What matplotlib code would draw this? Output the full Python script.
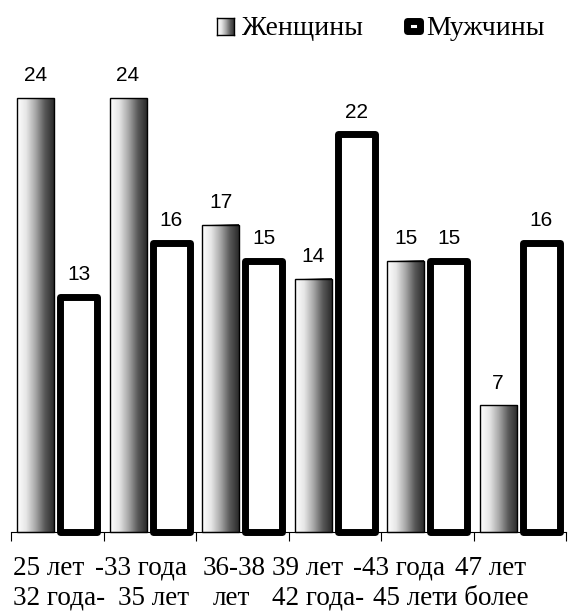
import numpy as np
import matplotlib
matplotlib.use("Agg")
import matplotlib.pyplot as plt
from matplotlib.colors import LinearSegmentedColormap
from matplotlib.patches import Rectangle
from matplotlib.transforms import blended_transform_factory

# Возрастные группы (подписи по строкам, как они выводятся под осью)
line1 = ["25 лет", "-33 года", "36-38", "39 лет", "-43 года", "47 лет"]
line2 = ["32 года-", "35 лет", "лет", "42 года-", "45 лет", "и более"]
women = [24, 24, 17, 14, 15, 7]
men = [13, 16, 15, 22, 15, 16]

# левый край каждого фрагмента подписи (в единицах категорий)
line1_x = [-0.478, 0.408, 1.576, 2.322, 3.197, 4.30]
line2_x = [-0.478, 0.657, 1.684, 2.322, 3.414, 4.165]

W, H = 569, 615
fig = plt.figure(figsize=(W / 100, H / 100), dpi=100)
ax = fig.add_axes([11 / W, 83 / H, 555 / W, 434 / H])

shade = LinearSegmentedColormap.from_list(
    "shade", ["#ffffff", "#e6e6e6", "#a8a8a8", "#5a5a5a", "#2a2a2a"])
grad = np.linspace(0, 1, 256).reshape(1, -1)

x = np.arange(len(women))
width = 0.40
off = 0.235

bars_w = ax.bar(x - off, women, width, facecolor="none", edgecolor="black",
                lw=1, zorder=3, clip_on=False)
for b in bars_w:
    ax.imshow(grad, cmap=shade, aspect="auto", zorder=2, clip_on=False,
              extent=[b.get_x(), b.get_x() + b.get_width(), 0, b.get_height()])

bars_m = ax.bar(x + off, men, width, facecolor="white", edgecolor="black",
                lw=5, joinstyle="round", zorder=3, clip_on=False)

for bars, vals in ((bars_w, women), (bars_m, men)):
    for b, v in zip(bars, vals):
        ax.annotate(str(v), (b.get_x() + b.get_width() / 2, v),
                    xytext=(0, 12), textcoords="offset points",
                    ha="center", va="baseline", fontsize=15,
                    family="Liberation Sans")

ax.set_xlim(-0.5, len(women) - 0.5)
ax.set_ylim(0, 24)
for s in ("top", "left", "right"):
    ax.spines[s].set_visible(False)
ax.spines["bottom"].set_linewidth(0.8)
ax.set_yticks([])
ax.set_xticks(np.arange(-0.5, len(women), 1))
ax.set_xticklabels([])
ax.tick_params(axis="x", length=6.5, width=0.8, direction="out")

tr = blended_transform_factory(ax.transData, fig.transFigure)
for xs, ys, texts in ((line1_x, (H - 575) / H, line1),
                      (line2_x, (H - 605) / H, line2)):
    for xp, t in zip(xs, texts):
        ax.text(xp, ys, t, transform=tr, ha="left", va="baseline",
                fontsize=19.5, family="Liberation Serif")

# легенда
lax = fig.add_axes([217 / W, (H - 35) / H, 17 / W, 17 / H])
lax.imshow(grad, cmap=shade, aspect="auto")
lax.set_xticks([])
lax.set_yticks([])
for s in lax.spines.values():
    s.set_linewidth(1)
fig.text(242 / W, (H - 35) / H, "Женщины", ha="left", va="baseline",
         fontsize=20, family="Liberation Serif")
fig.patches.append(Rectangle((407 / W, (H - 31) / H), 13 / W, 10 / H,
                             transform=fig.transFigure, facecolor="white",
                             edgecolor="black", lw=5, joinstyle="round"))
fig.text(426 / W, (H - 35) / H, "Мужчины", ha="left", va="baseline",
         fontsize=20, family="Liberation Serif")

fig.savefig("out.png", dpi=100)
